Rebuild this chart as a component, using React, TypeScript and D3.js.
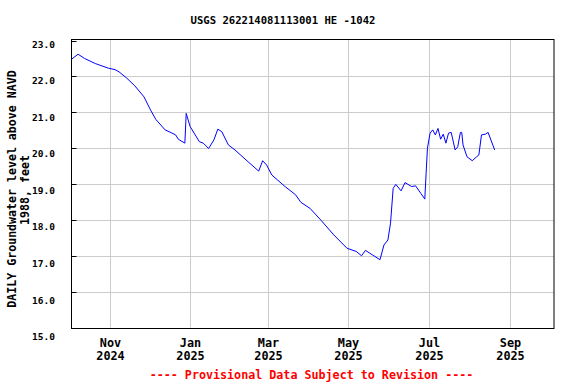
import React from "react";
import * as d3 from "d3";

const title = "USGS 262214081113001 HE -1042";
const yLabelLines = ["DAILY Groundwater level above NAVD", "1988, feet"];
const footer = "---- Provisional Data Subject to Revision ----";

const dates = [
  "2024-10-03", "2024-10-08", "2024-10-13", "2024-10-21", "2024-10-31", "2024-11-05",
  "2024-11-08", "2024-11-14", "2024-11-20", "2024-11-27", "2024-12-02", "2024-12-06",
  "2024-12-13", "2024-12-16", "2024-12-21", "2024-12-23", "2024-12-28", "2024-12-29",
  "2025-01-01", "2025-01-08", "2025-01-11", "2025-01-15", "2025-01-19", "2025-01-22",
  "2025-01-25", "2025-01-30", "2025-02-04", "2025-02-14", "2025-02-22", "2025-02-25",
  "2025-02-28", "2025-03-04", "2025-03-14", "2025-03-22", "2025-03-26", "2025-04-02",
  "2025-04-10", "2025-04-20", "2025-04-30", "2025-05-07", "2025-05-11", "2025-05-14",
  "2025-05-19", "2025-05-25", "2025-05-28", "2025-05-31", "2025-06-02", "2025-06-04",
  "2025-06-06", "2025-06-10", "2025-06-13", "2025-06-18", "2025-06-21", "2025-06-25",
  "2025-06-28", "2025-06-29", "2025-06-30", "2025-07-02", "2025-07-04", "2025-07-06",
  "2025-07-08", "2025-07-10", "2025-07-12", "2025-07-14", "2025-07-16", "2025-07-18",
  "2025-07-19", "2025-07-21", "2025-07-23", "2025-07-25", "2025-07-26", "2025-07-27",
  "2025-07-30", "2025-08-03", "2025-08-06", "2025-08-08", "2025-08-10", "2025-08-13",
  "2025-08-15", "2025-08-20",
];
const levels = [
  22.48, 22.62, 22.5, 22.36, 22.23, 22.19,
  22.13, 21.95, 21.74, 21.43, 21.06, 20.8,
  20.51, 20.46, 20.37, 20.25, 20.14, 20.97,
  20.6, 20.18, 20.14, 19.99, 20.23, 20.53,
  20.46, 20.09, 19.95, 19.62, 19.36, 19.65,
  19.53, 19.25, 18.93, 18.7, 18.49, 18.32,
  18.0, 17.58, 17.21, 17.12, 17.0, 17.15,
  17.03, 16.89, 17.3, 17.44, 17.91, 18.88,
  18.99, 18.81, 19.04, 18.93, 18.95, 18.74,
  18.58, 19.3, 20.0, 20.42, 20.51, 20.37,
  20.55, 20.25, 20.39, 20.14, 20.42, 20.44,
  20.28, 19.95, 20.04, 20.44, 20.44, 20.09,
  19.76, 19.65, 19.75, 19.81, 20.37, 20.39,
  20.44, 19.95,
];
const yTicks = [15, 16, 17, 18, 19, 20, 21, 22, 23];
const xTickDates = ["2024-11-01", "2025-01-01", "2025-03-01", "2025-05-01", "2025-07-01", "2025-09-01"];
const xTickMonths = ["Nov", "Jan", "Mar", "May", "Jul", "Sep"];
const xTickYears = ["2024", "2025", "2025", "2025", "2025", "2025"];

const parse = d3.utcParse("%Y-%m-%d");
const FONT = "'DejaVu Sans Mono', monospace";

export default function App() {
  const left = 71.5, right = 554, top = 39.5, bottom = 327.5;
  const x = d3.scaleUtc()
    .domain([parse("2024-10-03")!, parse("2025-10-04")!])
    .range([left, right]);
  const y = d3.scaleLinear().domain([15, 23.03]).range([bottom, top]);

  const pts = dates.map((d, i) => [parse(d)!, levels[i]] as [Date, number]);
  const line = d3.line<[Date, number]>().x(d => x(d[0])).y(d => y(d[1]));

  return (
    <svg width={576} height={384} style={{ position: "absolute", left: 0, top: 0, background: "#fff" }}>
      <rect x={0} y={0} width={576} height={384} fill="#fff" />
      <text x={283} y={24} textAnchor="middle" fontFamily={FONT} fontWeight="bold" fontSize={10.6} fill="#000">{title}</text>
      {yTicks.map(t => (
        <g key={t}>
          {t > 15 && t < 23 && <line x1={left} x2={right} y1={Math.round(y(t)) + 0.5} y2={Math.round(y(t)) + 0.5} stroke="#cccccc" strokeWidth={1} />}
          <line x1={left} x2={left + 5} y1={Math.round(y(t)) + 0.5} y2={Math.round(y(t)) + 0.5} stroke="#000" strokeWidth={1} />
          <text x={55} y={y(t) + 7 + (23 - t) * 0.7} textAnchor="end" fontFamily={FONT} fontWeight="bold" fontSize={9.5} fill="#000">{t.toFixed(1)}</text>
        </g>
      ))}
      {xTickDates.map((d, i) => {
        const xp = Math.round(x(parse(d)!)) + 0.5;
        return (
          <g key={d}>
            <line x1={xp} x2={xp} y1={top} y2={bottom} stroke="#cccccc" strokeWidth={1} />
            <text x={xp} y={346.5} textAnchor="middle" fontFamily={FONT} fontWeight="bold" fontSize={11.8} fill="#000">{xTickMonths[i]}</text>
            <text x={xp} y={360} textAnchor="middle" fontFamily={FONT} fontWeight="bold" fontSize={11.8} fill="#000">{xTickYears[i]}</text>
          </g>
        );
      })}
      <rect x={left} y={top} width={right - left} height={bottom - top + 1} fill="none" stroke="#000" strokeWidth={1} />
      <path d={line(pts) || ""} fill="none" stroke="#0000ff" strokeWidth={1} />
      <g transform="translate(16,189) rotate(-90)">
        <text x={0} y={0} textAnchor="middle" fontFamily={FONT} fontWeight="bold" fontSize={11.6} fill="#000">{yLabelLines[0]}</text>
      </g>
      <g transform="translate(29,190) rotate(-90)">
        <text x={0} y={0} textAnchor="middle" fontFamily={FONT} fontWeight="bold" fontSize={11.6} fill="#000">{yLabelLines[1]}</text>
      </g>
      <text x={311.5} y={379} textAnchor="middle" fontFamily={FONT} fontWeight="bold" fontSize={11.7} fill="#ff0000">{footer}</text>
    </svg>
  );
}
